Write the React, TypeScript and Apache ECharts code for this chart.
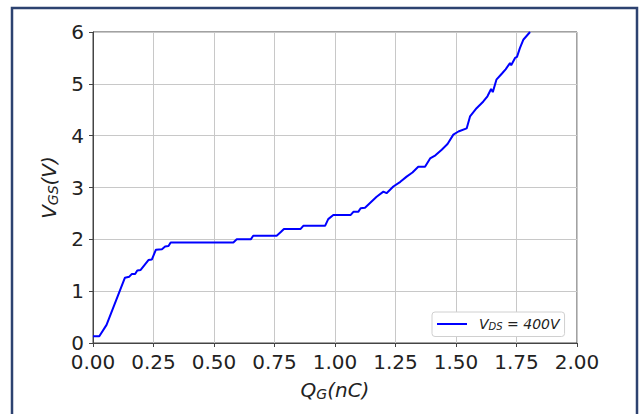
import React, { useEffect, useRef } from "react";
import * as echarts from "echarts";

const qValues = [0, 0.026, 0.056, 0.132, 0.15, 0.16, 0.174, 0.183, 0.197, 0.229, 0.243, 0.26, 0.285, 0.298, 0.312, 0.321, 0.58, 0.594, 0.652, 0.662, 0.759, 0.776, 0.789, 0.858, 0.869, 0.959, 0.972, 0.993, 1.065, 1.076, 1.096, 1.106, 1.124, 1.172, 1.2, 1.213, 1.241, 1.27, 1.296, 1.32, 1.344, 1.372, 1.393, 1.415, 1.441, 1.465, 1.489, 1.51, 1.544, 1.558, 1.585, 1.613, 1.63, 1.645, 1.652, 1.667, 1.69, 1.705, 1.723, 1.728, 1.744, 1.752, 1.764, 1.778, 1.806];
const vgsValues = [0.13, 0.13, 0.35, 1.26, 1.28, 1.33, 1.33, 1.4, 1.41, 1.6, 1.61, 1.8, 1.81, 1.86, 1.87, 1.94, 1.94, 2.0, 2.0, 2.07, 2.07, 2.14, 2.2, 2.2, 2.26, 2.26, 2.39, 2.47, 2.47, 2.53, 2.53, 2.6, 2.61, 2.82, 2.92, 2.89, 3.02, 3.11, 3.21, 3.29, 3.4, 3.4, 3.56, 3.62, 3.73, 3.84, 4.02, 4.08, 4.14, 4.37, 4.53, 4.66, 4.76, 4.9, 4.84, 5.08, 5.2, 5.28, 5.4, 5.36, 5.5, 5.52, 5.69, 5.85, 6.0];
const seriesName = "VDS = 400V";

const FONT = "DejaVu Sans";

export default function App() {
  const ref = useRef<HTMLDivElement>(null);
  useEffect(() => {
    if (!ref.current) return;
    const chart = echarts.init(ref.current, undefined, { renderer: "svg" });
    const data = qValues.map((q, i) => [q, vgsValues[i]]);
    chart.setOption({
      animation: false,
      backgroundColor: "#fff",
      textStyle: { fontFamily: FONT },
      graphic: [
        {
          type: "rect",
          shape: { x: 12, y: 8, width: 625, height: 430 },
          style: { fill: "none", stroke: "#2d4270", lineWidth: 2.5 },
          silent: true,
          z: 100,
        },
      ],
      grid: {
        left: 93,
        right: 63,
        top: 32,
        bottom: 71,
        show: true,
        borderColor: "#444",
        borderWidth: 1,
        backgroundColor: "transparent",
      },
      legend: {
        data: [seriesName],
        left: 432,
        top: 312,
        padding: [5, 5, 5, 5],
        borderColor: "#d0d0d0",
        borderWidth: 1,
        borderRadius: 3,
        backgroundColor: "#fff",
        icon: "rect",
        itemWidth: 30,
        itemHeight: 2,
        itemGap: 6,
        formatter: () => "{f|V}{s|DS}{i| = 400V}",
        textStyle: {
          rich: {
            f: { fontFamily: FONT, fontStyle: "italic", fontSize: 14, color: "#222", padding: [0, 0, 0, 7] },
            i: { fontFamily: FONT, fontStyle: "italic", fontSize: 14, color: "#222" },
            s: { fontFamily: FONT, fontStyle: "italic", fontSize: 10, color: "#222", padding: [5, 0, 0, 0] },
          },
        },
      },
      xAxis: {
        type: "value",
        min: 0,
        max: 2,
        interval: 0.25,
        name: "{i|Q}{s|G}{i|(nC)}",
        nameLocation: "middle",
        nameGap: 36,
        nameTextStyle: {
          rich: {
            i: { fontFamily: FONT, fontStyle: "italic", fontSize: 20, color: "#222" },
            s: { fontFamily: FONT, fontStyle: "italic", fontSize: 14, color: "#222", padding: [8, 0, 0, 0] },
          },
        },
        axisLine: { show: true, lineStyle: { color: "#444", width: 1 } },
        axisTick: { show: true, length: 4, lineStyle: { color: "#444" } },
        axisLabel: {
          fontFamily: FONT,
          fontSize: 20,
          color: "#222",
          margin: 9,
          formatter: (v: number) => v.toFixed(2),
        },
        splitLine: { show: true, lineStyle: { color: "#c8c8c8", width: 1 } },
      },
      yAxis: {
        type: "value",
        min: 0,
        max: 6,
        interval: 1,
        name: "{i|V}{s|GS}{i|(V)}",
        nameLocation: "middle",
        nameRotate: 90,
        nameGap: 30,
        nameTextStyle: {
          rich: {
            i: { fontFamily: FONT, fontStyle: "italic", fontSize: 20, color: "#222" },
            s: { fontFamily: FONT, fontStyle: "italic", fontSize: 14, color: "#222", padding: [8, 0, 0, 0] },
          },
        },
        axisLine: { show: true, lineStyle: { color: "#444", width: 1 } },
        axisTick: { show: true, length: 4, lineStyle: { color: "#444" } },
        axisLabel: { fontFamily: FONT, fontSize: 20, color: "#222", margin: 9 },
        splitLine: { show: true, lineStyle: { color: "#c8c8c8", width: 1 } },
      },
      series: [
        {
          name: seriesName,
          type: "line",
          data,
          showSymbol: false,
          lineStyle: { color: "#0000ff", width: 2 },
          itemStyle: { color: "#0000ff" },
          clip: true,
        },
      ],
    });
    return () => chart.dispose();
  }, []);
  return (
    <div
      ref={ref}
      style={{ position: "fixed", left: 0, top: 0, width: 640, height: 414 }}
    />
  );
}
